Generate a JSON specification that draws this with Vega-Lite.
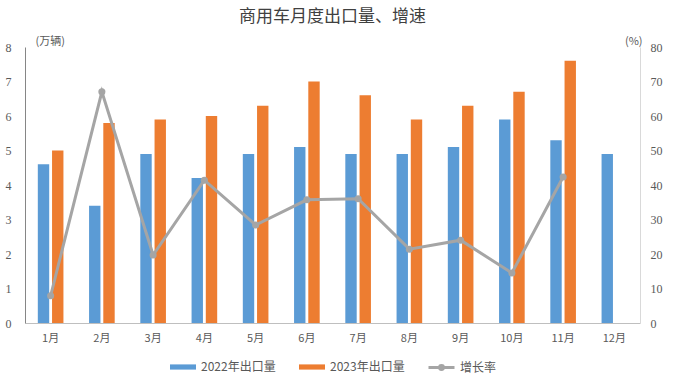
{
  "$schema": "https://vega.github.io/schema/vega-lite/v6.json",
  "width": 615,
  "height": 276,
  "autosize": {"type": "none"},
  "padding": {"left": 25, "top": 47, "right": 48, "bottom": 56},
  "background": "white",
  "title": {"text": "商用车月度出口量、增速", "font": "Noto Sans CJK SC", "fontSize": 17, "fontWeight": "normal", "color": "#404040", "offset": 9},
  "config": {
    "view": {"stroke": null},
    "axis": {"labelFontSize": 12, "labelColor": "#595959", "grid": false, "ticks": false},
    "legend": {"labelFont": "Noto Sans CJK SC", "labelFontSize": 12, "labelColor": "#595959", "layout": {"bottom": {"anchor": "middle", "direction": "horizontal", "margin": 22}}}
  },
  "datasets": {
    "bars": [
      {"month": "1月", "series": "2022年出口量", "value": 4.6},
      {"month": "1月", "series": "2023年出口量", "value": 5.0},
      {"month": "2月", "series": "2022年出口量", "value": 3.4},
      {"month": "2月", "series": "2023年出口量", "value": 5.8},
      {"month": "3月", "series": "2022年出口量", "value": 4.9},
      {"month": "3月", "series": "2023年出口量", "value": 5.9},
      {"month": "4月", "series": "2022年出口量", "value": 4.2},
      {"month": "4月", "series": "2023年出口量", "value": 6.0},
      {"month": "5月", "series": "2022年出口量", "value": 4.9},
      {"month": "5月", "series": "2023年出口量", "value": 6.3},
      {"month": "6月", "series": "2022年出口量", "value": 5.1},
      {"month": "6月", "series": "2023年出口量", "value": 7.0},
      {"month": "7月", "series": "2022年出口量", "value": 4.9},
      {"month": "7月", "series": "2023年出口量", "value": 6.6},
      {"month": "8月", "series": "2022年出口量", "value": 4.9},
      {"month": "8月", "series": "2023年出口量", "value": 5.9},
      {"month": "9月", "series": "2022年出口量", "value": 5.1},
      {"month": "9月", "series": "2023年出口量", "value": 6.3},
      {"month": "10月", "series": "2022年出口量", "value": 5.9},
      {"month": "10月", "series": "2023年出口量", "value": 6.7},
      {"month": "11月", "series": "2022年出口量", "value": 5.3},
      {"month": "11月", "series": "2023年出口量", "value": 7.6},
      {"month": "12月", "series": "2022年出口量", "value": 4.9}
    ],
    "rate": [
      {"month": "1月", "rate": 7.9},
      {"month": "2月", "rate": 67.0},
      {"month": "3月", "rate": 19.7},
      {"month": "4月", "rate": 41.4},
      {"month": "5月", "rate": 28.4},
      {"month": "6月", "rate": 35.7},
      {"month": "7月", "rate": 36.0},
      {"month": "8月", "rate": 21.4},
      {"month": "9月", "rate": 24.0},
      {"month": "10月", "rate": 14.5},
      {"month": "11月", "rate": 42.3}
    ]
  },
  "encoding": {
    "x": {
      "field": "month", "type": "nominal",
      "sort": ["1月","2月","3月","4月","5月","6月","7月","8月","9月","10月","11月","12月"],
      "scale": {"domain": ["1月","2月","3月","4月","5月","6月","7月","8月","9月","10月","11月","12月"], "paddingInner": 0.5, "paddingOuter": 0.25},
      "axis": {"title": null, "labelAngle": 0, "labelFont": "Noto Sans CJK SC", "labelFontSize": 11, "labelPadding": 9, "domainColor": "#bfbfbf"}
    }
  },
  "layer": [
    {
      "data": {"name": "bars"},
      "mark": {"type": "bar"},
      "encoding": {
        "xOffset": {"field": "series", "type": "nominal", "scale": {"paddingInner": 0.2}},
        "y": {
          "field": "value", "type": "quantitative",
          "scale": {"domain": [0, 8], "nice": false},
          "axis": {"orient": "left", "values": [0,1,2,3,4,5,6,7,8], "labelFont": "Liberation Serif", "labelFontSize": 12, "title": "(万辆)", "titleAngle": 0, "titleAlign": "left", "titleBaseline": "middle", "titleX": 10, "titleY": -6, "titleFont": "Noto Sans CJK SC", "titleFontSize": 11, "titleFontWeight": "normal", "titleColor": "#595959", "domainColor": "#868686", "labelPadding": 14}
        },
        "color": {
          "field": "series", "type": "nominal",
          "scale": {"domain": ["2022年出口量", "2023年出口量"], "range": ["#5b9bd5", "#ed7d31"]},
          "legend": {"orient": "bottom", "title": null, "symbolType": "M-1,-0.2H1V0.2H-1Z", "symbolSize": 676, "columnPadding": 22, "offset": 10}
        }
      }
    },
    {
      "data": {"name": "rate"},
      "encoding": {
        "y": {
          "field": "rate", "type": "quantitative",
          "scale": {"domain": [0, 80], "nice": false},
          "axis": {"orient": "right", "values": [0,10,20,30,40,50,60,70,80], "labelFont": "Liberation Serif", "labelFontSize": 12, "title": "(%)", "titleAngle": 0, "titleAlign": "right", "titleBaseline": "middle", "titleX": 2, "titleY": -6, "titleFont": "Noto Sans CJK SC", "titleFontSize": 11, "titleFontWeight": "normal", "titleColor": "#595959", "domainColor": "#d9d9d9", "labelPadding": 10}
        }
      },
      "layer": [
        {
          "mark": {"type": "line", "strokeWidth": 3},
          "encoding": {
            "stroke": {"datum": "增长率", "scale": {"range": ["#a5a5a5"]}, "legend": {"orient": "bottom", "title": null, "symbolType": "M-1,0H1M-0.15,0A0.15,0.15 0 1,0 0.15,0A0.15,0.15 0 1,0 -0.15,0", "symbolSize": 676, "symbolStrokeWidth": 3, "offset": 10}}
          }
        },
        {
          "mark": {"type": "point", "filled": true, "size": 50, "color": "#a5a5a5", "opacity": 1}
        }
      ]
    }
  ],
  "resolve": {"scale": {"y": "independent"}}
}
